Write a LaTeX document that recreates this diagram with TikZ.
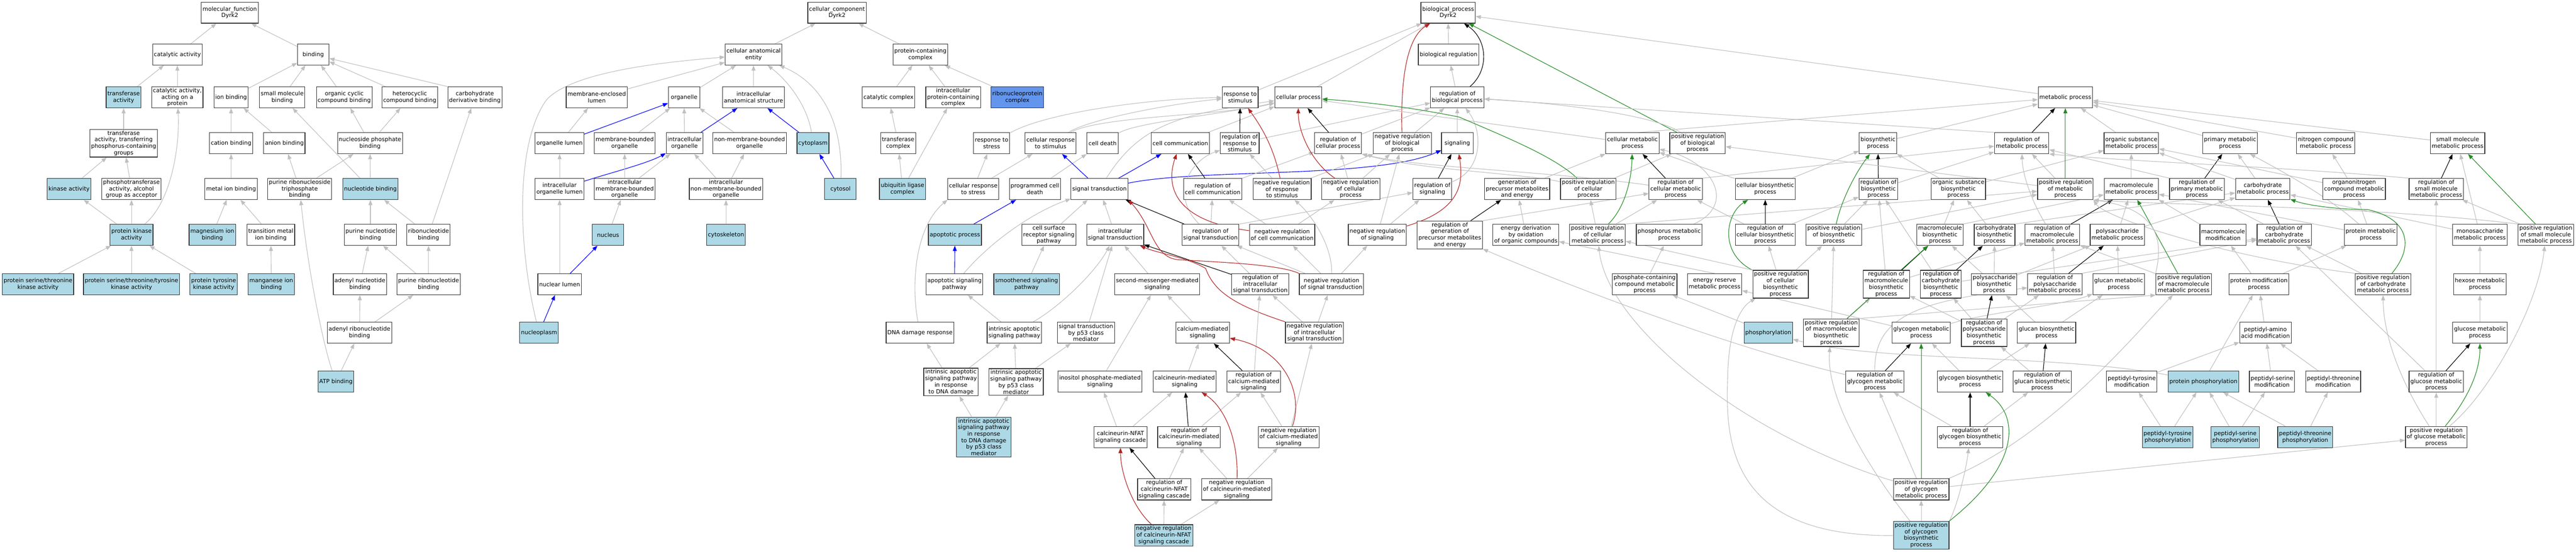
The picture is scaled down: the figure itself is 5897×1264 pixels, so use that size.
\documentclass[tikz,border=0pt]{standalone}
\usepackage{fontspec}
\setmainfont{DejaVu Sans}
\usetikzlibrary{arrows.meta,backgrounds}
\definecolor{lb}{HTML}{ADD8E6}
\definecolor{cfb}{HTML}{6495ED}
\definecolor{cgray}{HTML}{C0C0C0}
\definecolor{cred}{HTML}{B22222}
\definecolor{cgreen}{HTML}{228B22}
\definecolor{cblue}{HTML}{0000FF}
\newcommand{\edg}[3][eg]{\draw[#1] (#2) -- (#3);}
\begin{document}
\begin{tikzpicture}[x=1pt,y=-1pt,
  box/.style={draw=black!80, line width=1.4pt, fill=white, rectangle, minimum width=72pt, minimum height=48pt,
    inner xsep=3pt, inner ysep=3pt, align=center, font=\fontsize{13}{15}\selectfont},
  hl/.style={box, fill=lb},
  hk/.style={box, fill=cfb},
  ed/.style={line width=1.3pt, -{Triangle[length=12pt,width=9pt]}},
  eg/.style={ed, draw=cgray},
  eb/.style={ed, draw=cblue},
  er/.style={ed, draw=cred},
  egn/.style={ed, draw=cgreen},
  ek/.style={ed, draw=black}]
\useasboundingbox (0,0) rectangle (5897,1264);
% ---------------- molecular function
\node[box] (mf) at (526,29) {molecular\_function\\Dyrk2};
\node[box] (catact) at (406,125) {catalytic activity};
\node[box] (binding) at (717,125) {binding};
\node[hl] (transf) at (283,223) {transferase\\activity};
\node[box] (catprot) at (406,223) {catalytic activity,\\acting on a\\protein};
\node[box] (ionb) at (529,223) {ion binding};
\node[box] (smb) at (646,223) {small molecule\\binding};
\node[box] (occb) at (788,223) {organic cyclic\\compound binding};
\node[box] (hcb) at (938,223) {heterocyclic\\compound binding};
\node[box] (cdb) at (1087,223) {carbohydrate\\derivative binding};
\node[box] (ttp) at (283,328) {transferase\\activity, transferring\\phosphorus-containing\\groups};
\node[box] (cationb) at (529,328) {cation binding};
\node[box] (anionb) at (651,328) {anion binding};
\node[box] (npb) at (847,328) {nucleoside phosphate\\binding};
\node[hl] (kinase) at (158,433) {kinase activity};
\node[box] (phosphot) at (301,433) {phosphotransferase\\activity, alcohol\\group as acceptor};
\node[box] (metalb) at (529,433) {metal ion binding};
\node[box] (prtb) at (686,433) {purine ribonucleoside\\triphosphate\\binding};
\node[hl] (nucb) at (848,433) {nucleotide binding};
\node[hl] (pka) at (301,538) {protein kinase\\activity};
\node[hl] (mgb) at (486,538) {magnesium ion\\binding};
\node[box] (tmb) at (620,538) {transition metal\\ion binding};
\node[box] (pnb) at (848,538) {purine nucleotide\\binding};
\node[box] (rnb) at (981,538) {ribonucleotide\\binding};
\node[hl] (pstk) at (87,651) {protein serine/threonine\\kinase activity};
\node[hl] (pstyk) at (301,651) {protein serine/threonine/tyrosine\\kinase activity};
\node[hl] (ptk) at (489,651) {protein tyrosine\\kinase activity};
\node[hl] (mnb) at (621,651) {manganese ion\\binding};
\node[box] (anb) at (824,651) {adenyl nucleotide\\binding};
\node[box] (prnb) at (981,651) {purine ribonucleotide\\binding};
\node[box] (arnb) at (823,762) {adenyl ribonucleotide\\binding};
\node[hl] (atp) at (769,874) {ATP binding};
% ---------------- cellular component
\node[box] (cc) at (1916,29) {cellular\_component\\Dyrk2};
\node[box] (cae) at (1725,125) {cellular anatomical\\entity};
\node[box] (pcc) at (2107,125) {protein-containing\\complex};
\node[box] (mel) at (1366,223) {membrane-enclosed\\lumen};
\node[box] (organelle) at (1566,223) {organelle};
\node[box] (ias) at (1725,223) {intracellular\\anatomical structure};
\node[box] (catcx) at (2034,223) {catalytic complex};
\node[box] (ipcc) at (2182,223) {intracellular\\protein-containing\\complex};
\node[hk] (rnp) at (2329,223) {ribonucleoprotein\\complex};
\node[box] (orglumen) at (1281,328) {organelle lumen};
\node[box] (mbo) at (1430,328) {membrane-bounded\\organelle};
\node[box] (io) at (1567,328) {intracellular\\organelle};
\node[box] (nmbo) at (1716,328) {non-membrane-bounded\\organelle};
\node[hl] (cytoplasm) at (1861,328) {cytoplasm};
\node[box] (trcx) at (2056,328) {transferase\\complex};
\node[box] (iol) at (1281,433) {intracellular\\organelle lumen};
\node[box] (imbo) at (1430,433) {intracellular\\membrane-bounded\\organelle};
\node[box] (inmbo) at (1662,433) {intracellular\\non-membrane-bounded\\organelle};
\node[hl] (cytosol) at (1924,433) {cytosol};
\node[hl] (ulc) at (2066,433) {ubiquitin ligase\\complex};
\node[hl] (nucleus) at (1392,538) {nucleus};
\node[hl] (cytosk) at (1662,538) {cytoskeleton};
\node[box] (nuclumen) at (1281,651) {nuclear lumen};
\node[hl] (nucleoplasm) at (1234,762) {nucleoplasm};
% ---------------- biological process
\node[box] (bp) at (3315,29) {biological\_process\\Dyrk2};
\node[box] (bioreg) at (3316,125) {biological regulation};
\node[box] (rts) at (2839,223) {response to\\stimulus};
\node[box] (cellproc) at (2972,223) {cellular process};
\node[box] (rbp) at (3336,223) {regulation of\\biological process};
\node[box] (metproc) at (4728,223) {metabolic process};
\node[box] (rtstress) at (2270,328) {response to\\stress};
\node[box] (crts) at (2405,328) {cellular response\\to stimulus};
\node[box] (celldeath) at (2524,328) {cell death};
\node[box] (cellcomm) at (2702,328) {cell communication};
\node[box] (rrts) at (2838,328) {regulation of\\response to\\stimulus};
\node[box] (rcp) at (3063,328) {regulation of\\cellular process};
\node[box] (nrbp) at (3210,328) {negative regulation\\of biological\\process};
\node[box] (signaling) at (3336,328) {signaling};
\node[box] (cmp) at (3737,328) {cellular metabolic\\process};
\node[box] (prbp) at (3886,328) {positive regulation\\of biological\\process};
\node[box] (biosyn) at (4299,328) {biosynthetic\\process};
\node[box] (rmp) at (4628,328) {regulation of\\metabolic process};
\node[box] (osmp) at (4879,328) {organic substance\\metabolic process};
\node[box] (pmp) at (5105,328) {primary metabolic\\process};
\node[box] (ncmp) at (5324,328) {nitrogen compound\\metabolic process};
\node[box] (smmp) at (5626,328) {small molecule\\metabolic process};
\node[box] (crtstress) at (2228,433) {cellular response\\to stress};
\node[box] (pcd) at (2369,433) {programmed cell\\death};
\node[box] (st) at (2517,433) {signal transduction};
\node[box] (rcc) at (2776,433) {regulation of\\cell communication};
\node[box] (nrrts) at (2935,433) {negative regulation\\of response\\to stimulus};
\node[box] (nrcp) at (3092,433) {negative regulation\\of cellular\\process};
\node[box] (rsig) at (3279,433) {regulation of\\signaling};
\node[box] (gpme) at (3473,433) {generation of\\precursor metabolites\\and energy};
\node[box] (prcp) at (3636,433) {positive regulation\\of cellular\\process};
\node[box] (rcmp) at (3836,433) {regulation of\\cellular metabolic\\process};
\node[box] (cbp) at (4041,433) {cellular biosynthetic\\process};
\node[box] (rbsp) at (4300,433) {regulation of\\biosynthetic\\process};
\node[box] (osbp) at (4483,433) {organic substance\\biosynthetic\\process};
\node[box] (prmp) at (4728,433) {positive regulation\\of metabolic\\process};
\node[box] (mmp) at (4879,433) {macromolecule\\metabolic process};
\node[box] (rpmp) at (5029,433) {regulation of\\primary metabolic\\process};
\node[box] (chmp) at (5180,433) {carbohydrate\\metabolic process};
\node[box] (oncmp) at (5389,433) {organonitrogen\\compound metabolic\\process};
\node[box] (rsmmp) at (5577,433) {regulation of\\small molecule\\metabolic process};
\node[hl] (apop) at (2186,538) {apoptotic process};
\node[box] (csrsp) at (2401,538) {cell surface\\receptor signaling\\pathway};
\node[box] (ist) at (2553,538) {intracellular\\signal transduction};
\node[box] (rst) at (2771,538) {regulation of\\signal transduction};
\node[box] (nrcc) at (2935,538) {negative regulation\\of cell communication};
\node[box] (nrsig) at (3153,538) {negative regulation\\of signaling};
\node[box] (rgpme) at (3319,538) {regulation of\\generation of\\precursor metabolites\\and energy};
\node[box] (edoc) at (3493,538) {energy derivation\\by oxidation\\of organic compounds};
\node[box] (prcmp) at (3657,538) {positive regulation\\of cellular\\metabolic process};
\node[box] (phmp) at (3821,538) {phosphorus metabolic\\process};
\node[box] (rcbp) at (4041,538) {regulation of\\cellular biosynthetic\\process};
\node[box] (prbsp) at (4198,538) {positive regulation\\of biosynthetic\\process};
\node[box] (mbp) at (4441,538) {macromolecule\\biosynthetic\\process};
\node[box] (chbp) at (4566,538) {carbohydrate\\biosynthetic\\process};
\node[box] (rmmp) at (4698,538) {regulation of\\macromolecule\\metabolic process};
\node[box] (psmp) at (4847,538) {polysaccharide\\metabolic process};
\node[box] (mmod) at (5089,538) {macromolecule\\modification};
\node[box] (rchmp) at (5229,538) {regulation of\\carbohydrate\\metabolic process};
\node[box] (protmp) at (5427,538) {protein metabolic\\process};
\node[box] (msmp) at (5677,538) {monosaccharide\\metabolic process};
\node[box] (prsmmp) at (5828,538) {positive regulation\\of small molecule\\metabolic process};
\node[box] (asp) at (2185,651) {apoptotic signaling\\pathway};
\node[hl] (ssp) at (2350,651) {smoothened signaling\\pathway};
\node[box] (smms) at (2649,651) {second-messenger-mediated\\signaling};
\node[box] (rist) at (2885,651) {regulation of\\intracellular\\signal transduction};
\node[box] (nrst) at (3048,651) {negative regulation\\of signal transduction};
\node[box] (pcmp) at (3765,651) {phosphate-containing\\compound metabolic\\process};
\node[box] (ermp) at (3925,651) {energy reserve\\metabolic process};
\node[box] (prcbp) at (4076,651) {positive regulation\\of cellular\\biosynthetic\\process};
\node[box] (rmbp) at (4318,651) {regulation of\\macromolecule\\biosynthetic\\process};
\node[box] (rchbp) at (4443,651) {regulation of\\carbohydrate\\biosynthetic\\process};
\node[box] (psbp) at (4565,651) {polysaccharide\\biosynthetic\\process};
\node[box] (rpsmp) at (4704,651) {regulation of\\polysaccharide\\metabolic process};
\node[box] (glucanmp) at (4850,651) {glucan metabolic\\process};
\node[box] (prmmp) at (4999,651) {positive regulation\\of macromolecule\\metabolic process};
\node[box] (protmod) at (5171,651) {protein modification\\process};
\node[box] (prchmp) at (5455,651) {positive regulation\\of carbohydrate\\metabolic process};
\node[box] (hexmp) at (5677,651) {hexose metabolic\\process};
\node[box] (dnadr) at (2106,762) {DNA damage response};
\node[box] (iasp) at (2322,762) {intrinsic apoptotic\\signaling pathway};
\node[box] (stp53) at (2486,762) {signal transduction\\by p53 class\\mediator};
\node[box] (cms) at (2753,762) {calcium-mediated\\signaling};
\node[box] (nrist) at (3009,762) {negative regulation\\of intracellular\\signal transduction};
\node[hl] (phos) at (4048,762) {phosphorylation};
\node[box] (prmbp) at (4192,762) {positive regulation\\of macromolecule\\biosynthetic\\process};
\node[box] (glymp) at (4398,762) {glycogen metabolic\\process};
\node[box] (rpsbp) at (4542,762) {regulation of\\polysaccharide\\biosynthetic\\process};
\node[box] (glucanbp) at (4685,762) {glucan biosynthetic\\process};
\node[box] (paam) at (5186,762) {peptidyl-amino\\acid modification};
\node[box] (glcmp) at (5677,762) {glucose metabolic\\process};
\node[box] (iaspdna) at (2177,875) {intrinsic apoptotic\\signaling pathway\\in response\\to DNA damage};
\node[box] (iaspp53) at (2326,875) {intrinsic apoptotic\\signaling pathway\\by p53 class\\mediator};
\node[box] (ipms) at (2518,874) {inositol phosphate-mediated\\signaling};
\node[box] (cnms) at (2712,874) {calcineurin-mediated\\signaling};
\node[box] (rcms) at (2870,874) {regulation of\\calcium-mediated\\signaling};
\node[box] (rglymp) at (4292,874) {regulation of\\glycogen metabolic\\process};
\node[box] (glybp) at (4510,874) {glycogen biosynthetic\\process};
\node[box] (rglucanbp) at (4675,874) {regulation of\\glucan biosynthetic\\process};
\node[box] (ptm) at (4880,874) {peptidyl-tyrosine\\modification};
\node[hl] (pphos) at (5044,874) {protein phosphorylation};
\node[box] (psm) at (5201,874) {peptidyl-serine\\modification};
\node[box] (pthm) at (5341,874) {peptidyl-threonine\\modification};
\node[box] (rglcmp) at (5577,874) {regulation of\\glucose metabolic\\process};
\node[hl] (iaspdnap53) at (2252,1001) {intrinsic apoptotic\\signaling pathway\\in response\\to DNA damage\\by p53 class\\mediator};
\node[box] (cnnfat) at (2565,1001) {calcineurin-NFAT\\signaling cascade};
\node[box] (rcnms) at (2722,1001) {regulation of\\calcineurin-mediated\\signaling};
\node[box] (nrcms) at (2950,1001) {negative regulation\\of calcium-mediated\\signaling};
\node[box] (rglybp) at (4510,1001) {regulation of\\glycogen biosynthetic\\process};
\node[hl] (ptyp) at (4962,1001) {peptidyl-tyrosine\\phosphorylation};
\node[hl] (psp) at (5117,1001) {peptidyl-serine\\phosphorylation};
\node[hl] (pthp) at (5277,1001) {peptidyl-threonine\\phosphorylation};
\node[box] (prglcmp) at (5577,1001) {positive regulation\\of glucose metabolic\\process};
\node[box] (rcnnfat) at (2665,1121) {regulation of\\calcineurin-NFAT\\signaling cascade};
\node[box] (nrcnms) at (2831,1121) {negative regulation\\of calcineurin-mediated\\signaling};
\node[box] (prglymp) at (4398,1121) {positive regulation\\of glycogen\\metabolic process};
\node[hl] (nrcnnfat) at (2664,1226) {negative regulation\\of calcineurin-NFAT\\signaling cascade};
\node[hl] (prglybp) at (4398,1226) {positive regulation\\of glycogen\\biosynthetic\\process};

\begin{scope}[on background layer]
\fill[white] (0,0) rectangle (5897,1264);
% ---- MF edges
\edg{catact}{mf} \edg{binding}{mf}
\edg{transf}{catact} \edg{catprot}{catact}
\edg{ionb}{binding} \edg{smb}{binding} \edg{occb}{binding} \edg{hcb}{binding} \edg{cdb.north west}{binding}
\edg{ttp}{transf}
\edg{cationb}{ionb} \edg{anionb}{ionb}
\edg{npb}{occb} \edg{npb}{hcb}
\edg{kinase}{ttp} \edg{phosphot}{ttp}
\edg{metalb}{cationb}
\edg{prtb}{anionb} \edg{prtb}{npb}
\edg{nucb}{npb} \edg{nucb}{smb}
\edg{pka}{kinase} \edg{pka}{phosphot}
\draw[eg] (pka) .. controls (390,465) and (412,340) .. (catprot);
\edg{mgb}{metalb} \edg{tmb}{metalb}
\edg{pnb}{nucb} \edg{rnb}{nucb} \edg{rnb}{cdb}
\edg{pstk}{pka} \edg{pstyk}{pka} \edg{ptk}{pka}
\edg{mnb}{tmb}
\edg{anb}{pnb} \edg{prnb}{pnb} \edg{prnb}{rnb}
\edg{arnb}{anb} \edg{arnb}{prnb}
\edg{atp}{arnb}
\draw[eg] (atp) .. controls (740,790) and (705,620) .. (prtb);
% ---- CC edges
\edg{cae}{cc} \edg{pcc}{cc}
\edg{mel}{cae} \edg{organelle}{cae} \edg{ias}{cae}
\draw[eg] (cytoplasm) .. controls (1850,250) and (1810,190) .. (cae);
\draw[eg] (cytosol) .. controls (1930,280) and (1880,190) .. (cae);
\draw[eg] (nucleoplasm) .. controls (1185,560) and (1180,330) .. (1250,230) .. controls (1310,160) and (1550,140) .. (cae);
\edg{catcx}{pcc} \edg{ipcc}{pcc} \edg{rnp}{pcc}
\edg{orglumen}{mel} \edg[eb]{orglumen}{organelle}
\edg{mbo}{organelle} \edg{io}{organelle} \edg{nmbo}{organelle}
\edg[eb]{io}{ias} \edg[eb]{cytoplasm}{ias}
\edg{trcx}{catcx}
\edg{iol}{orglumen}
\draw[eb] (iol) .. controls (1400,395) and (1480,375) .. (io);
\edg{imbo}{mbo} \edg{imbo}{io}
\edg{inmbo}{io} \edg{inmbo}{nmbo}
\edg[eb]{cytosol}{cytoplasm}
\edg{ulc}{trcx} \edg{ulc}{ipcc}
\edg{nucleus}{imbo}
\edg{cytosk}{inmbo}
\edg{nuclumen}{iol} \edg[eb]{nuclumen}{nucleus}
\edg[eb]{nucleoplasm}{nuclumen}
% ---- BP edges
\edg{bioreg}{bp} \edg{rbp}{bioreg} \edg{cellproc}{bp} \edg{rts}{bp} \edg[egn]{prbp}{bp} \edg{metproc}{bp}
\draw[ek] (rbp) .. controls (3410,160) and (3405,90) .. (bp);
\draw[er] (nrbp) .. controls (3205,150) and (3230,80) .. (bp);
\draw[eg] (rtstress) .. controls (2400,255) and (2650,225) .. (rts);
\draw[eg] (crts) .. controls (2500,270) and (2700,235) .. (rts);
\draw[eg] (crts) .. controls (2520,265) and (2800,265) .. (cellproc);
\draw[eg] (celldeath) .. controls (2600,280) and (2800,262) .. (cellproc);
\draw[eg] (st) .. controls (2610,285) and (2700,262) .. (cellproc);
\edg{cellcomm}{cellproc}
\edg[ek]{rrts}{rts} \edg{rrts}{rbp}
\edg[ek]{rcp}{cellproc} \edg{rcp}{rbp}
\edg{nrbp}{rbp}
\edg{signaling}{rbp}
\edg{cmp}{cellproc} \edg{cmp.60}{metproc}
\draw[eg] (prbp) .. controls (3780,260) and (3550,235) .. (rbp);
\edg{crtstress}{rtstress} \edg{crtstress}{crts}
\edg{pcd}{celldeath}
\edg[eb]{st}{crts} \edg[eb]{st}{cellcomm}
\draw[eb] (st) .. controls (2750,385) and (3150,410) .. (signaling);
\edg[ek]{rcc}{cellcomm} \edg{rcc}{rcp}
\edg{nrrts}{rrts} \edg{nrrts}{nrbp}
\draw[er] (nrrts) .. controls (2915,330) and (2880,280) .. (rts);
\edg{nrcp}{rcp} \edg{nrcp}{nrbp}
\draw[er] (nrcp) .. controls (3000,370) and (2972,300) .. (cellproc);
\edg[ek]{rsig}{signaling}
\draw[eg] (rsig) .. controls (3395,390) and (3395,300) .. (rbp);
\edg{gpme}{cmp}
\edg{prcp}{prbp}
\draw[egn] (prcp) .. controls (3560,360) and (3450,315) .. (3340,268) .. controls (3200,240) and (3100,232) .. (cellproc);
\draw[eg] (prcp) .. controls (3500,398) and (3250,390) .. (rcp.south east);
\edg[ek]{rcmp}{cmp} \edg{rcmp.north east}{rmp}
\draw[eg] (rcmp) .. controls (3550,392) and (3250,385) .. (rcp.south east);
\edg[eb]{apop}{pcd}
\edg{csrsp}{st} \edg{ist}{st}
\edg[ek]{rst}{st} \edg{rst}{rcc} \edg{rst.north east}{rsig}
\draw[eg] (rst) .. controls (2680,450) and (2720,370) .. (rrts);
\edg{nrcc}{rcc} \edg{nrcc}{nrcp}
\draw[er] (nrcc) .. controls (2680,505) and (2670,420) .. (cellcomm);
\edg{nrsig}{rsig} \edg{nrsig}{nrbp}
\draw[er] (nrsig) .. controls (3345,480) and (3350,420) .. (signaling);
\edg[ek]{rgpme}{gpme} \edg{rgpme.north east}{rcmp}
\edg{edoc}{gpme}
\edg{prcmp}{prcp} \edg{prcmp}{rcmp} \edg{prcmp.north east}{prmp}
\draw[egn] (prcmp) .. controls (3725,470) and (3735,400) .. (cmp);
\draw[eg] (phmp) .. controls (3975,470) and (3925,370) .. (cmp);
\edg[eb]{asp}{apop}
\draw[eg] (asp) .. controls (2280,540) and (2380,480) .. (st);
\edg{ssp}{csrsp}
\edg{smms}{ist}
\edg[ek]{rist}{ist} \edg{rist}{rst}
\edg{nrst}{nrcc} \edg{nrst}{nrsig} \edg{nrst}{rst}
\draw[eg] (nrst) .. controls (3050,560) and (3000,490) .. (nrrts);
\draw[er] (nrst.north west) .. controls (2930,605) and (2780,600) .. (2700,595) .. controls (2640,592) and (2640,520) .. (st.south east);
\edg{pcmp}{phmp}
\edg{ermp.north}{edoc}
\edg{iasp}{asp}
\draw[eg] (iasp) .. controls (2430,700) and (2510,620) .. (ist);
\edg{stp53}{ist}
\draw[eg] (dnadr) .. controls (2085,650) and (2095,520) .. (crtstress.south west);
\edg{cms}{smms}
\edg{nrist}{nrst} \edg{nrist}{rist}
\draw[er] (nrist.north west) .. controls (2830,700) and (2780,670) .. (2760,615) .. controls (2720,590) and (2650,580) .. (ist);
\edg{iaspdna}{dnadr} \edg{iaspdna}{iasp}
\edg{iaspp53}{iasp} \edg{iaspp53}{stp53}
\edg{ipms}{smms}
\edg{cnms}{cms}
\edg[ek]{rcms}{cms} \edg{rcms}{rist}
\edg{iaspdnap53}{iaspdna} \edg{iaspdnap53}{iaspp53}
\edg{cnnfat}{ipms} \edg{cnnfat}{cnms}
\edg[ek]{rcnms}{cnms} \edg{rcnms}{rcms}
\edg{nrcms}{rcms} \edg{nrcms}{nrist}
\draw[er] (nrcms) .. controls (2985,900) and (2940,800) .. (cms);
\edg[ek]{rcnnfat}{cnnfat} \edg{rcnnfat}{rcnms}
\edg{nrcnms}{rcnms} \edg{nrcnms}{nrcms}
\draw[er] (nrcnms) .. controls (2835,1000) and (2800,930) .. (cnms);
\edg{nrcnnfat}{rcnnfat} \edg{nrcnnfat}{nrcnms}
\draw[er] (nrcnnfat) .. controls (2590,1160) and (2565,1080) .. (cnnfat);
% ---- metabolic edges
\edg{biosyn}{metproc} \edg[ek]{rmp}{metproc} \edg{osmp}{metproc} \edg{pmp}{metproc} \edg{ncmp}{metproc} \edg{smmp}{metproc}
\edg{rmp.north west}{rbp}
\edg{cbp}{biosyn} \edg{cbp}{cmp}
\edg[ek]{rbsp}{biosyn} \edg{rbsp}{rmp}
\edg{osbp}{biosyn} \edg{osbp}{osmp}
\edg[egn]{prmp}{metproc} \edg{prmp}{rmp} \edg{prmp}{prbp}
\edg{mmp}{osmp}
\edg[ek]{rpmp}{pmp} \edg{rpmp.north west}{rmp}
\edg{chmp}{pmp} \edg{chmp}{osmp}
\edg{oncmp}{ncmp} \edg{oncmp}{osmp}
\edg[ek]{rsmmp}{smmp}
\draw[eg] (rsmmp.north west) .. controls (5200,380) and (4900,372) .. (rmp.south east);
\edg[ek]{rcbp}{cbp} \edg{rcbp}{rbsp} \edg{rcbp}{rcmp}
\draw[egn] (prbsp) .. controls (4215,460) and (4245,400) .. (biosyn);
\edg{prbsp}{rbsp} \edg{prbsp}{prmp}
\edg{mbp}{osbp} \edg{mbp.north east}{mmp}
\edg{chbp}{osbp} \edg{chbp.north east}{chmp}
\edg[ek]{rmmp}{mmp}
\draw[eg] (rmmp) .. controls (4650,460) and (4630,400) .. (rmp);
\edg{psmp}{mmp} \edg{psmp}{chmp}
\edg{mmod.north west}{mmp.south east}
\edg[ek]{rchmp}{chmp} \edg{rchmp}{rpmp}
\draw[eg] (protmp) .. controls (5330,450) and (5220,390) .. (pmp);
\edg{protmp}{oncmp} \edg{protmp}{mmp}
\edg{msmp}{smmp} \edg{msmp}{chmp}
\edg[egn]{prsmmp}{smmp} \edg{prsmmp}{rsmmp}
\draw[eg] (prsmmp.north west) .. controls (5400,470) and (4950,470) .. (prmp.south east);
\draw[egn] (prcbp) .. controls (3935,580) and (3950,490) .. (cbp);
\edg{prcbp}{rcbp} \edg{prcbp}{prbsp} \edg{prcbp.north west}{prcmp}
\edg[ek]{rmbp}{mbp} \edg{rmbp}{rbsp} \edg{rmbp}{rmmp}
\edg[ek]{rchbp}{chbp} \edg{rchbp}{rbsp} \edg{rchbp}{rchmp}
\edg{psbp}{chbp} \edg{psbp}{mbp} \edg{psbp}{psmp}
\edg[ek]{rpsmp}{psmp} \edg{rpsmp}{rmmp} \edg{rpsmp.north east}{rchmp}
\edg{glucanmp}{psmp}
\edg[egn]{prmmp}{mmp} \edg{prmmp}{rmmp}
\draw[eg] (prmmp.north west) .. controls (4950,560) and (4950,480) .. (prmp.south east);
\edg{protmod}{mmod} \edg{protmod}{protmp}
\draw[egn] (prchmp) .. controls (5530,560) and (5510,500) .. (5420,480) .. controls (5350,480) and (5280,470) .. (chmp);
\edg{prchmp}{rchmp}
\draw[eg] (prchmp.north west) .. controls (5100,590) and (4820,500) .. (prmp.south east);
\edg{hexmp}{msmp}
\edg{phos}{pcmp}
\edg{prmbp}{rmbp} \edg[egn]{prmbp}{mbp} \edg{prmbp}{prbsp} \edg{prmbp.north east}{prmmp.south west}
\edg{glymp}{ermp}
\draw[eg] (glymp) .. controls (4550,715) and (4720,700) .. (glucanmp);
\edg[ek]{rpsbp}{psbp} \edg{rpsbp}{rmbp} \edg{rpsbp}{rchbp} \edg{rpsbp}{rpsmp}
\edg{glucanbp}{psbp} \edg{glucanbp}{glucanmp}
\edg{paam}{protmod}
\edg{glcmp}{hexmp}
\edg[ek]{rglymp}{glymp}
\draw[eg] (rglymp) .. controls (4290,720) and (4400,690) .. (rpsmp);
\draw[eg] (rglymp) .. controls (4000,805) and (3650,680) .. (rgpme);
\edg{glybp}{glymp} \edg{glybp}{glucanbp}
\edg[ek]{rglucanbp}{glucanbp} \edg{rglucanbp}{rpsbp}
\edg{ptm}{paam}
\edg{pphos}{protmod}
\draw[eg] (pphos) .. controls (4700,810) and (4300,830) .. (phos);
\edg{psm}{paam} \edg{pthm}{paam}
\edg[ek]{rglcmp}{glcmp} \edg{rglcmp}{rchmp} \edg{rglcmp}{rsmmp}
\edg[ek]{rglybp}{glybp} \edg{rglybp}{rglymp} \edg{rglybp}{rglucanbp}
\edg{ptyp}{ptm} \edg{ptyp}{pphos}
\edg{psp}{pphos} \edg{psp}{psm}
\edg{pthp}{pphos} \edg{pthp}{pthm}
\edg{prglcmp}{rglcmp}
\draw[egn] (prglcmp) .. controls (5660,900) and (5677,840) .. (glcmp);
\draw[eg] (prglcmp) .. controls (5480,850) and (5456,750) .. (prchmp);
\draw[eg] (prglcmp) .. controls (5700,900) and (5810,700) .. (prsmmp);
\edg[egn]{prglymp}{glymp} \edg{prglymp}{rglymp} \edg{prglymp}{prglcmp}
\draw[eg] (prglymp) .. controls (4000,1000) and (3680,750) .. (prcmp);
\draw[eg] (prglymp) .. controls (4700,1000) and (4900,750) .. (prmmp);
\edg{prglybp}{prglymp}
\draw[eg] (prglybp.north east) .. controls (4480,1160) and (4500,1080) .. (rglybp);
\draw[egn] (prglybp.north east) .. controls (4630,1060) and (4620,950) .. (glybp);
\draw[eg] (prglybp) .. controls (4260,1050) and (4180,900) .. (prmbp);
\draw[eg] (prglybp) .. controls (3950,1230) and (3950,1000) .. (3955,860) .. controls (3958,740) and (3990,700) .. (prcbp);
\end{scope}
\end{tikzpicture}
\end{document}
